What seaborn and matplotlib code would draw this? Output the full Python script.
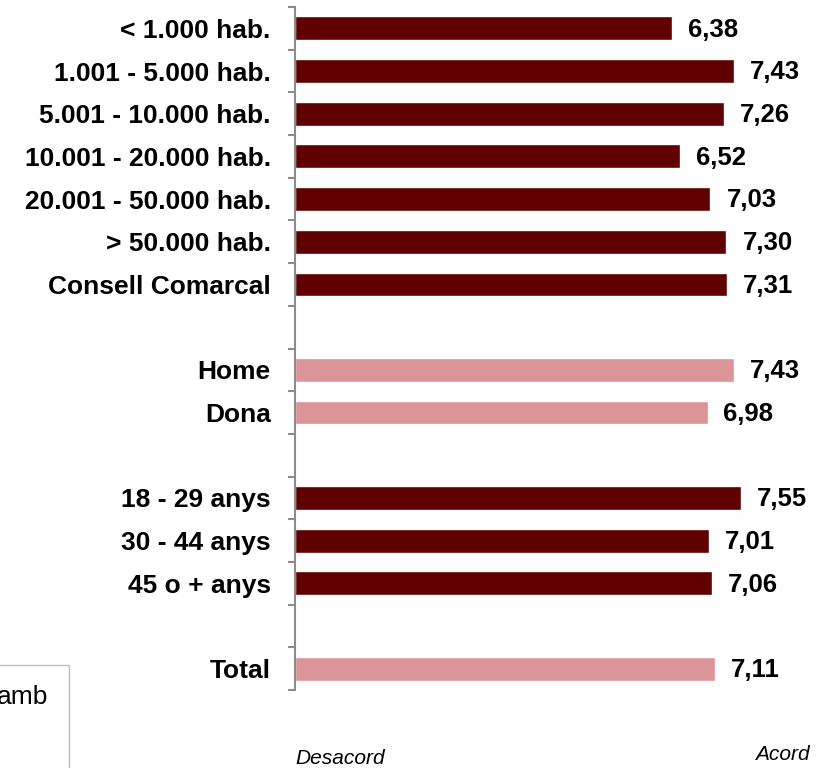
import matplotlib
matplotlib.use("Agg")
import matplotlib.pyplot as plt
import seaborn as sns
import pandas as pd
import numpy as np
from matplotlib.patches import Rectangle

categories = ["< 1.000 hab.", "1.001 - 5.000 hab.", "5.001 - 10.000 hab.",
              "10.001 - 20.000 hab.", "20.001 - 50.000 hab.", "> 50.000 hab.",
              "Consell Comarcal", " ", "Home", "Dona", "  ",
              "18 - 29 anys", "30 - 44 anys", "45 o + anys", "   ", "Total"]
values = [6.38, 7.43, 7.26, 6.52, 7.03, 7.30, 7.31, np.nan, 7.43, 6.98, np.nan,
          7.55, 7.01, 7.06, np.nan, 7.11]
groups = ["dark"] * 7 + ["none", "light", "light", "none", "dark", "dark", "dark", "none", "light"]

dark = "#600000"
light = "#DB9497"
palette = {c: (dark if g == "dark" else light) for c, g in zip(categories, groups)}

df = pd.DataFrame({"cat": categories, "val": values, "grp": groups})
df_plot = df.dropna()

sns.set_style("white")
plt.rcParams['font.family'] = ['Liberation Sans', 'DejaVu Sans']
plt.rcParams['text.color'] = 'black'
plt.rcParams['ytick.color'] = 'black'

fig = plt.figure(figsize=(8.23, 7.68), dpi=100)
W, H = 823, 768
left_px, right_px, top_px, bot_px = 295, 823, 7, 690
ax = fig.add_axes([left_px / W, 1 - bot_px / H, (right_px - left_px) / W, (bot_px - top_px) / H])

sns.barplot(data=df_plot, y="cat", x="val", hue="cat", order=categories,
            palette=palette, width=0.56, legend=False, ax=ax, orient="h",
            errorbar=None, saturation=1)

xmax = (right_px - left_px) / 59.1
ax.set_xlim(0, xmax)
ax.set_ylim(len(categories) - 0.5, -0.5)

for i, (c, v) in enumerate(zip(categories, values)):
    if not np.isnan(v):
        ax.text(v + 0.27, i + 0.03, f"{v:.2f}".replace(".", ","), va="center", ha="left",
                fontsize=18.5, fontweight="bold", color="black")

ax.set_yticks(range(len(categories)))
ax.set_yticklabels(categories, fontsize=19, fontweight="bold", color="black")
ax.set_yticks(np.arange(-0.5, len(categories), 1.0), minor=True)
ax.tick_params(axis="y", which="major", left=False, length=0, pad=17.5)
ax.tick_params(axis="y", which="minor", left=True, length=5, width=1.5,
               color="#8c8c8c", direction="out")
ax.set_xticks([])
ax.set_xlabel("")
ax.set_ylabel("")
for s in ["top", "right", "bottom"]:
    ax.spines[s].set_visible(False)
ax.spines["left"].set_color("#8c8c8c")
ax.spines["left"].set_linewidth(1.5)

fig.text(295 / W, 1 - 758 / H, "Desacord", fontsize=15, style="italic", ha="left", va="center")
fig.text(810 / W, 1 - 755 / H, "Acord", fontsize=15, style="italic", ha="right", va="center")

fig.patches.append(Rectangle((-10 / W, 1 - 800 / H), 79 / W, 135 / H, transform=fig.transFigure,
                             fill=False, edgecolor="#bfbfbf", linewidth=1))
fig.text(48 / W, 1 - 697 / H, "amb", fontsize=19, ha="right", va="center")

fig.savefig("out.png", dpi=100)
